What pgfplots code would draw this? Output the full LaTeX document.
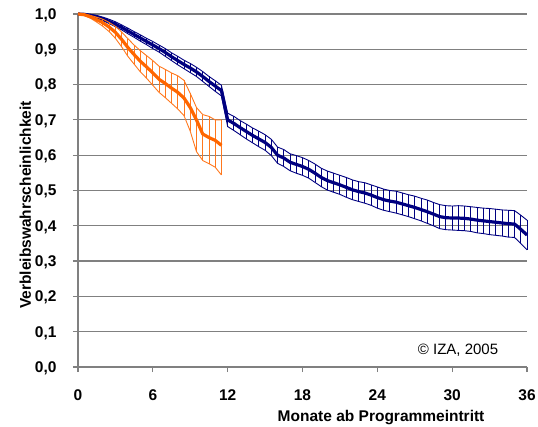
\documentclass[border=0pt]{standalone}
\usepackage{fontspec}
\setmainfont{Liberation Sans}
\usepackage{pgfplots}
\usepackage{pgfplotstable}
\pgfplotsset{compat=1.18}
\definecolor{navyb}{RGB}{0,0,128}
\definecolor{oran}{RGB}{255,102,0}
\definecolor{oranband}{RGB}{255,120,30}
\definecolor{gridc}{RGB}{128,128,128}

\pgfplotstableread{
x y lo hi
0 1.000 1.000 1.000
0.5 0.999 0.997 1.000
1 0.996 0.993 0.999
1.5 0.992 0.988 0.996
2 0.986 0.981 0.991
2.5 0.979 0.973 0.985
3 0.971 0.964 0.978
3.5 0.962 0.955 0.969
4 0.952 0.944 0.960
4.5 0.942 0.934 0.950
5 0.932 0.923 0.941
5.5 0.922 0.913 0.931
6 0.912 0.902 0.922
6.5 0.902 0.892 0.912
7 0.891 0.880 0.902
7.5 0.879 0.868 0.890
8 0.868 0.856 0.880
8.5 0.857 0.845 0.869
9 0.847 0.834 0.860
9.5 0.836 0.823 0.849
10 0.823 0.809 0.837
10.5 0.809 0.795 0.823
11 0.796 0.781 0.811
11.5 0.783 0.768 0.798
12 0.700 0.681 0.719
12.5 0.690 0.670 0.710
13 0.678 0.658 0.698
13.5 0.667 0.646 0.688
14 0.656 0.635 0.677
14.5 0.646 0.624 0.668
15 0.636 0.614 0.658
15.5 0.622 0.599 0.645
16 0.600 0.577 0.623
16.5 0.592 0.568 0.616
17 0.580 0.556 0.604
17.5 0.574 0.549 0.599
18 0.568 0.543 0.593
18.5 0.560 0.535 0.585
19 0.549 0.523 0.575
19.5 0.537 0.511 0.563
20 0.528 0.501 0.555
20.5 0.522 0.495 0.549
21 0.516 0.489 0.543
21.5 0.509 0.481 0.537
22 0.502 0.474 0.530
22.5 0.497 0.469 0.525
23 0.493 0.464 0.522
23.5 0.487 0.458 0.516
24 0.480 0.450 0.510
24.5 0.474 0.444 0.504
25 0.470 0.440 0.500
25.5 0.467 0.436 0.498
26 0.462 0.431 0.493
26.5 0.457 0.426 0.488
27 0.452 0.420 0.484
27.5 0.446 0.414 0.478
28 0.440 0.407 0.473
28.5 0.433 0.400 0.466
29 0.426 0.392 0.460
29.5 0.423 0.389 0.457
30 0.422 0.388 0.456
30.5 0.422 0.387 0.457
31 0.421 0.386 0.456
31.5 0.419 0.384 0.454
32 0.416 0.380 0.452
32.5 0.414 0.378 0.450
33 0.412 0.375 0.449
33.5 0.410 0.373 0.447
34 0.408 0.371 0.445
34.5 0.406 0.368 0.444
35 0.405 0.367 0.443
35.5 0.390 0.350 0.430
36 0.374 0.332 0.416
}\bluedata

\pgfplotstableread{
x y lo hi
0 1.000 1.000 1.000
0.5 0.998 0.996 1.000
1 0.992 0.988 0.996
1.5 0.984 0.977 0.991
2 0.975 0.965 0.985
2.5 0.963 0.950 0.976
3 0.948 0.931 0.965
3.5 0.928 0.907 0.949
4 0.905 0.880 0.930
4.5 0.885 0.858 0.912
5 0.866 0.836 0.896
5.5 0.850 0.818 0.882
6 0.833 0.798 0.868
6.5 0.815 0.778 0.852
7 0.803 0.763 0.843
7.5 0.790 0.747 0.833
8 0.778 0.731 0.825
8.5 0.762 0.712 0.812
9 0.735 0.668 0.775
9.5 0.700 0.610 0.735
10 0.660 0.585 0.715
10.5 0.650 0.576 0.710
11 0.642 0.566 0.700
11.5 0.628 0.544 0.700
}\orangedata

\begin{document}
\begin{tikzpicture}
\useasboundingbox (-78bp,-60bp) rectangle (460bp,367bp);
\begin{axis}[
  at={(0,0)}, anchor=south west,
  scale only axis, width=449bp, height=353bp,
  xmin=0, xmax=36, ymin=0, ymax=1,
  xtick={0,6,12,18,24,30,36},
  ytick={0,0.1,0.2,0.3,0.4,0.5,0.6,0.7,0.8,0.9,1.0},
  axis x line*=bottom, axis y line*=left,
  axis line style={gridc, line width=1.2bp},
  ymajorgrids, grid style={gridc, line width=1.2bp},
  tick align=outside, major tick length=5bp,
  tick style={gridc, line width=1.2bp},
  /pgf/number format/assume math mode=true,
  tick label style={font=\fontsize{15.5bp}{18bp}\selectfont\bfseries},
  yticklabel={\pgfmathprintnumber[fixed,fixed zerofill,precision=1,use comma]{\tick}},
  yticklabel style={anchor=base east, xshift=-13bp, yshift=-5.3bp},
  xticklabel style={anchor=base, yshift=-28.5bp},
  xlabel={Monate ab Programmeintritt},
  xlabel style={at={(axis description cs:0.675,-0.155)}, anchor=base, font=\fontsize{15.5bp}{18bp}\selectfont\bfseries},
  ylabel={Verbleibswahrscheinlichkeit},
  ylabel style={at={(axis description cs:-0.1047,0.459)}, anchor=base, font=\fontsize{15.5bp}{18bp}\selectfont\bfseries},
  clip=false,
]
% blue band
\addplot[navyb, line width=0.9bp, no marks] table[x=x, y=hi] {\bluedata};
\addplot[navyb, line width=0.9bp, no marks] table[x=x, y=lo] {\bluedata};
\addplot[draw=none, no marks, error bars/.cd, y dir=both, y explicit, error mark=none,
  error bar style={draw=navyb, line width=0.9bp}]
  table[x=x, y=y, y error plus expr=\thisrow{hi}-\thisrow{y}, y error minus expr=\thisrow{y}-\thisrow{lo}] {\bluedata};
\addplot[navyb, line width=3.2bp, no marks, line join=round] table[x=x, y=y] {\bluedata};
% orange band
\addplot[oranband, line width=0.9bp, no marks] table[x=x, y=hi] {\orangedata};
\addplot[oranband, line width=0.9bp, no marks] table[x=x, y=lo] {\orangedata};
\addplot[draw=none, no marks, error bars/.cd, y dir=both, y explicit, error mark=none,
  error bar style={draw=oranband, line width=0.9bp}]
  table[x=x, y=y, y error plus expr=\thisrow{hi}-\thisrow{y}, y error minus expr=\thisrow{y}-\thisrow{lo}] {\orangedata};
\addplot[oran, line width=3.2bp, no marks, line join=round] table[x=x, y=y] {\orangedata};
\node[anchor=base east, font=\fontsize{15bp}{18bp}\selectfont] at (axis cs:33.97,0.035) {© IZA, 2005};
\end{axis}
\end{tikzpicture}
\end{document}
